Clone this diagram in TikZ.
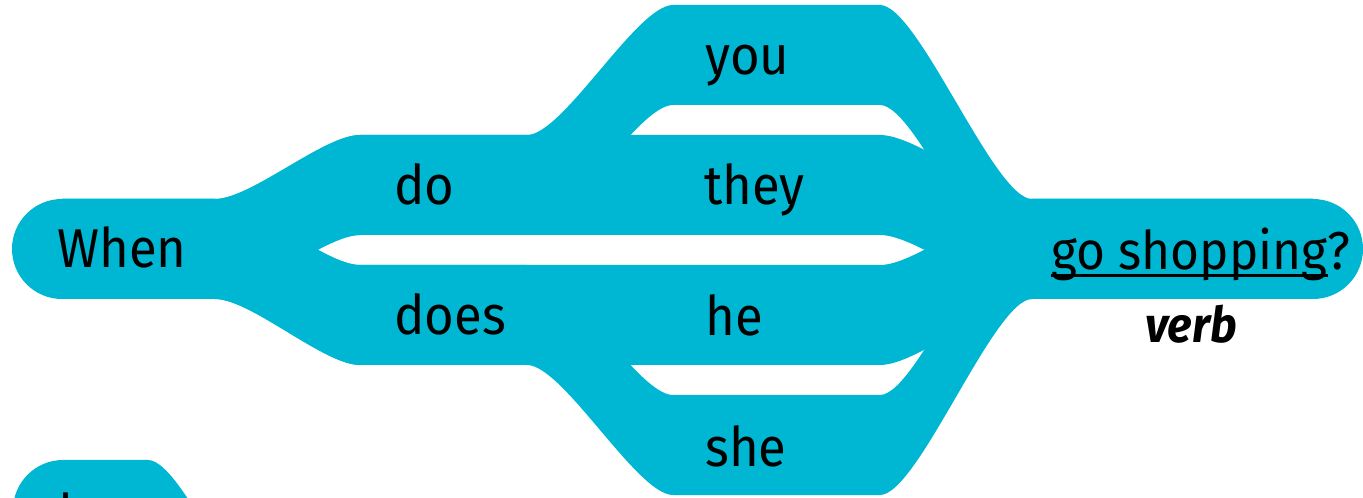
\documentclass[tikz,border=0pt]{standalone}
\usepackage{fontspec}
\setmainfont{Fira Sans}[FakeStretch=0.93]
\definecolor{bandcyan}{RGB}{0,183,211}
\newcommand\ribbonfill[2]{%
  \fill[band] (62,199) -- (215,199) .. controls (251,199) and (324,#1) .. (360,#1)
    -- (527,#1) .. controls (563,#1) and (637,#2) .. (673,#2)
    -- (880,#2) .. controls (918,#2) and (994,199) .. (1032,199)
    -- (1313,199) -- (1313,299) -- (1032,299)
    .. controls (994,299) and (918,#2+100) .. (880,#2+100)
    -- (673,#2+100) .. controls (637,#2+100) and (563,#1+100) .. (527,#1+100)
    -- (360,#1+100) .. controls (324,#1+100) and (251,299) .. (215,299)
    -- (62,299) -- cycle;}
\begin{document}
\begin{tikzpicture}[x=0.75pt,y=-0.75pt,
  band/.style={fill=bandcyan},
  word/.style={font=\fontsize{41}{49}\selectfont, inner sep=0pt, anchor=base west, text=black},
  verbword/.style={word, font=\fontsize{40}{48}\selectfont},
  tag/.style={font=\bfseries\itshape\fontsize{37}{44}\selectfont, inner sep=0pt, anchor=base, text=black}]
\useasboundingbox (0,0) rectangle (1363,498);
\clip (0,0) rectangle (1363,498);
% ribbons
\ribbonfill{135}{5}
\ribbonfill{135}{135}
\ribbonfill{265}{265}
\ribbonfill{265}{395}
\fill[band] (62,249) circle[radius=50];
\fill[band] (1313,249) circle[radius=50];
% partial shape of the next row
\fill[band] (63,460) -- (148,460) .. controls (186,460) and (260,654) .. (298,654) -- (63,654) -- cycle;
\fill[band] (63,510) circle[radius=50];
% words
\node[word] (when) at (57,268) {When};
\node[word] (do) at (394,205) {do};
\node[word] (does) at (394,335) {does};
\node[word] (you) at (705,75) {you};
\node[word] (they) at (704,205) {they};
\node[word] (he) at (705,336) {he};
\node[word] (she) at (705,467) {she};
\node[verbword] (gs) at (1051,270) {go shopping};
\node[verbword, anchor=base west] (q) at (gs.base east) {?};
\draw[line width=2.2pt] ([yshift=-3.8pt]gs.base west) -- ([yshift=-3.8pt]gs.base east);
\node[tag] (verb) at (1191,343) {verb};
\node[word] (next) at (58,530) {I};
\end{tikzpicture}
\end{document}
